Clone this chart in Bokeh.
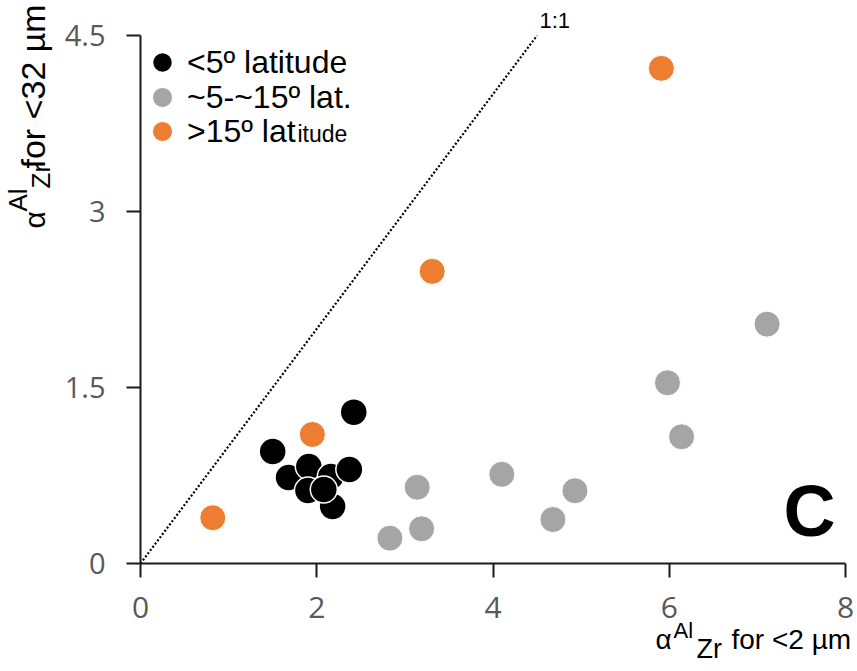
import math
from bokeh.plotting import figure
from bokeh.models import Range1d, FixedTicker, Label, NumeralTickFormatter, Legend, LegendItem
from bokeh.embed import file_html
from bokeh.resources import INLINE

# ---- data ----
x_low = [2.42, 1.50, 1.68, 1.91, 2.16, 2.37, 2.18, 1.90, 2.08]
y_low = [1.29, 0.955, 0.733, 0.827, 0.741, 0.801, 0.486, 0.622, 0.631]
x_mid = [7.11, 5.98, 6.14, 4.10, 4.93, 4.68, 3.14, 3.19, 2.83]
y_mid = [2.04, 1.54, 1.08, 0.76, 0.62, 0.375, 0.65, 0.296, 0.216]
x_high = [0.82, 1.95, 3.31, 5.91]
y_high = [0.39, 1.10, 2.49, 4.22]
one_to_one = [0, 4.5]
x_ticks = [0, 2, 4, 6, 8]
y_ticks = [0, 1.5, 3, 4.5]
legend_labels = ["<5º latitude", "~5-~15º lat.", ">15º lat"]
colors = ["#000000", "#A5A5A5", "#ED7D31"]

# ---- layout (pixels) ----
W, H = 857, 671
L, R, T, B = 140, 845, 35, 563          # where the axes' data extents sit
x_lo, x_hi, y_lo, y_hi = 0, 8, 0, 4.5
kx = (R - L) / (x_hi - x_lo)
ky = (B - T) / (y_hi - y_lo)
xr = Range1d(x_lo - L / kx, x_hi + (W - R) / kx)
yr = Range1d(y_lo - (H - B) / ky, y_hi + T / ky)

p = figure(width=W, height=H, x_range=xr, y_range=yr,
           output_backend="svg", toolbar_location=None,
           min_border=0, min_border_left=0, min_border_right=0,
           min_border_top=0, min_border_bottom=0)
p.outline_line_color = None
p.grid.visible = False
p.background_fill_color = "white"
p.border_fill_color = "white"

p.xaxis.fixed_location = 0
p.yaxis.fixed_location = 0
p.xaxis.bounds = (x_lo, x_hi)
p.yaxis.bounds = (y_lo, y_hi)
for ax, ticks in ((p.xaxis, x_ticks), (p.yaxis, y_ticks)):
    ax.ticker = FixedTicker(ticks=ticks)
    ax.formatter = NumeralTickFormatter(format="0.[0]")
    ax.minor_tick_line_color = None
    ax.major_tick_out = 14
    ax.major_tick_in = 0
    ax.axis_line_width = 2
    ax.axis_line_color = "#1a1a1a"
    ax.major_tick_line_width = 2
    ax.major_tick_line_color = "#1a1a1a"
    ax.major_label_text_font = "Open Sans"
    ax.major_label_text_color = "#595959"
p.xaxis.major_label_text_font_size = "30px"
p.yaxis.major_label_text_font_size = "29px"
p.xaxis.major_label_standoff = 19
p.yaxis.major_label_standoff = 21

p.line(one_to_one, one_to_one, line_dash="2 2", line_width=2.2, color="black")

r_mid = p.scatter(x_mid, y_mid, size=26, fill_color=colors[1], line_color="white", line_width=1)
r_high = p.scatter(x_high, y_high, size=26, fill_color=colors[2], line_color="white", line_width=1)
r_low = p.scatter(x_low, y_low, size=27, fill_color=colors[0], line_color="white", line_width=1.5)

# legend: one single-item legend per row so the row pitch matches the reference
row_centres = [62, 97, 131]
for lbl, rend, yc in zip(legend_labels, [r_low, r_mid, r_high], row_centres):
    lg = Legend(items=[LegendItem(label=lbl, renderers=[rend])],
                location=(137, H - (yc + 25)), padding=0, margin=0,
                glyph_width=50, glyph_height=50, label_standoff=0,
                label_text_font="Liberation Sans", label_text_font_size="32px",
                label_text_color="black",
                border_line_color=None, background_fill_alpha=0)
    p.add_layout(lg)


def lab(text, x, y, size, angle=0.0, style="normal"):
    # x, y: page pixel position of the text's start on its baseline
    shift = 0.3 * size
    if angle == 0:
        y -= shift
    else:
        x -= shift
    p.add_layout(Label(x=x, y=H - y, x_units="screen", y_units="screen", text=text, angle=angle,
                       text_font="Liberation Sans", text_font_size=f"{size}px",
                       text_font_style=style, text_color="black",
                       text_align="left", text_baseline="alphabetic"))


lab("itude", 297, 140, 23)
lab("1:1", 539, 27, 22)
lab("C", 783, 532, 72, style="bold")

# y axis title (page pixel positions)
a = math.pi / 2
lab("α", 43, 228, 30, a)
lab("Al", 25, 211, 26, a)
lab("Zr", 48, 188, 26, a)
lab("for <32 µm", 43, 168, 34, a)

# x axis title
lab("α", 655, 647, 28)
lab("Al", 673, 637, 22)
lab("Zr", 696, 657, 27)
lab("for <2 µm", 731, 647, 28)

open("out.html", "w").write(file_html(p, INLINE))
